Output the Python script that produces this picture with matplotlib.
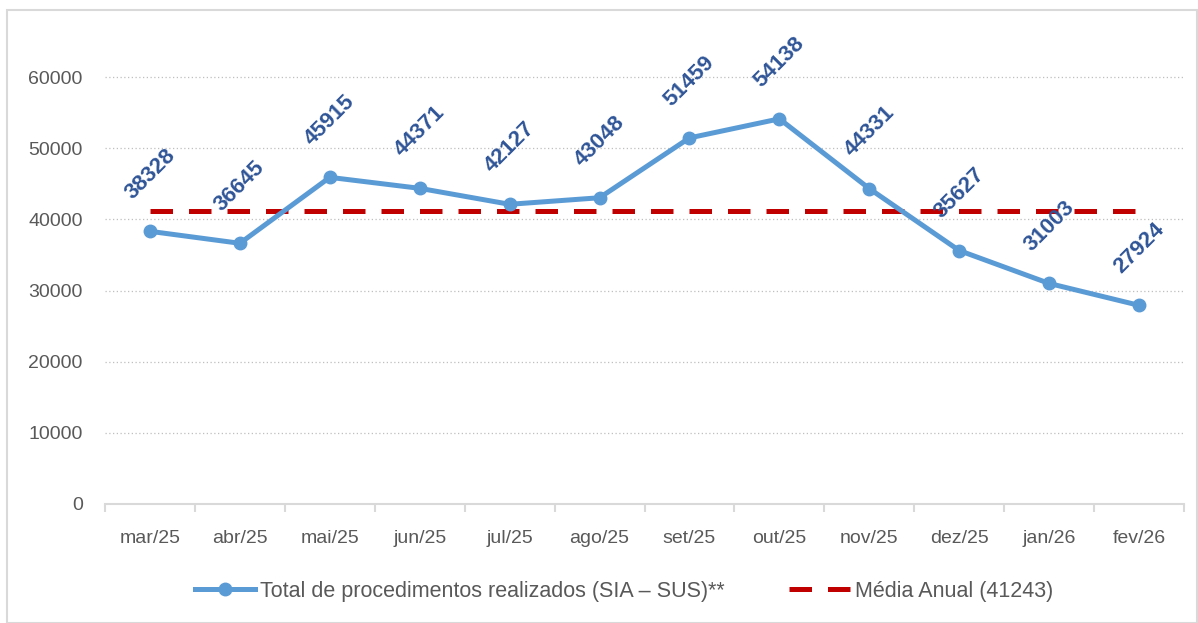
import numpy as np
import matplotlib
matplotlib.use("Agg")
import matplotlib.pyplot as plt
from matplotlib.patches import Rectangle

plt.rcParams['font.family'] = ['Liberation Sans', 'DejaVu Sans']

# ── Data ───────────────────────────────────────────────
months = ['mar/25', 'abr/25', 'mai/25', 'jun/25', 'jul/25', 'ago/25',
          'set/25', 'out/25', 'nov/25', 'dez/25', 'jan/26', 'fev/26']
totals = [38328, 36645, 45915, 44371, 42127, 43048,
          51459, 54138, 44331, 35627, 31003, 27924]
media_anual = 41243
yticks = [0, 10000, 20000, 30000, 40000, 50000, 60000]

BLUE = '#5B9BD5'
LABEL_BLUE = '#2F5597'
RED = '#C00000'
GRAY_TXT = '#595959'
GRID = '#D9D9D9'

fig = plt.figure(figsize=(11.98, 6.23), dpi=100)
fig.patches.append(Rectangle((7 / 1198, 0.0), 1 - 7 / 1198 - 0.001, 1 - 10 / 623,
                             transform=fig.transFigure, fill=False,
                             edgecolor=GRID, lw=1.5))
ax = fig.add_axes([105 / 1198, 1 - 504 / 623, (1184 - 105) / 1198, 498 / 623])

x = np.arange(len(months))
ax.plot(x, totals, color=BLUE, lw=3.6, marker='o', markersize=9,
        label='Total de procedimentos realizados (SIA – SUS)**', zorder=3)
ax.plot(x, [media_anual] * len(x), color=RED, lw=3.6, dashes=(4.5, 3.2),
        label=f'Média Anual ({media_anual})', zorder=2)

# rotated value labels above each point
for xi, v in zip(x, totals):
    ax.annotate(str(v), (xi, v), xytext=(0, 41), textcoords='offset points',
                ha='center', va='center', rotation=45, fontsize=16,
                fontweight='bold', color=LABEL_BLUE, zorder=4)

ax.set_xlim(-0.5, len(months) - 0.5)
ax.set_ylim(0, 70000)
ax.set_yticks(yticks)
ax.set_yticklabels([str(t) for t in yticks], fontsize=14, color=GRAY_TXT)
ax.yaxis.grid(True, color='#BFBFBF', linestyle=(0, (1, 2)), lw=0.9)
ax.tick_params(axis='y', length=0, pad=16)

ax.set_xticks(x)
ax.set_xticklabels(months, fontsize=14, color=GRAY_TXT)
ax.set_xticks(np.arange(-0.5, len(months)), minor=True)
ax.tick_params(axis='x', which='major', length=0, pad=19)
ax.tick_params(axis='x', which='minor', length=6, color=GRID, width=1.5)

for s in ['top', 'right', 'left']:
    ax.spines[s].set_visible(False)
ax.spines['bottom'].set_color(GRID)
ax.spines['bottom'].set_linewidth(1.5)

ax.legend(loc='center', bbox_to_anchor=(0.481, -0.175), ncol=2, frameon=False,
          fontsize=15.5, labelcolor=GRAY_TXT, handlelength=2.8,
          handletextpad=0.25, columnspacing=3.0)

fig.savefig('out.png', dpi=100)
